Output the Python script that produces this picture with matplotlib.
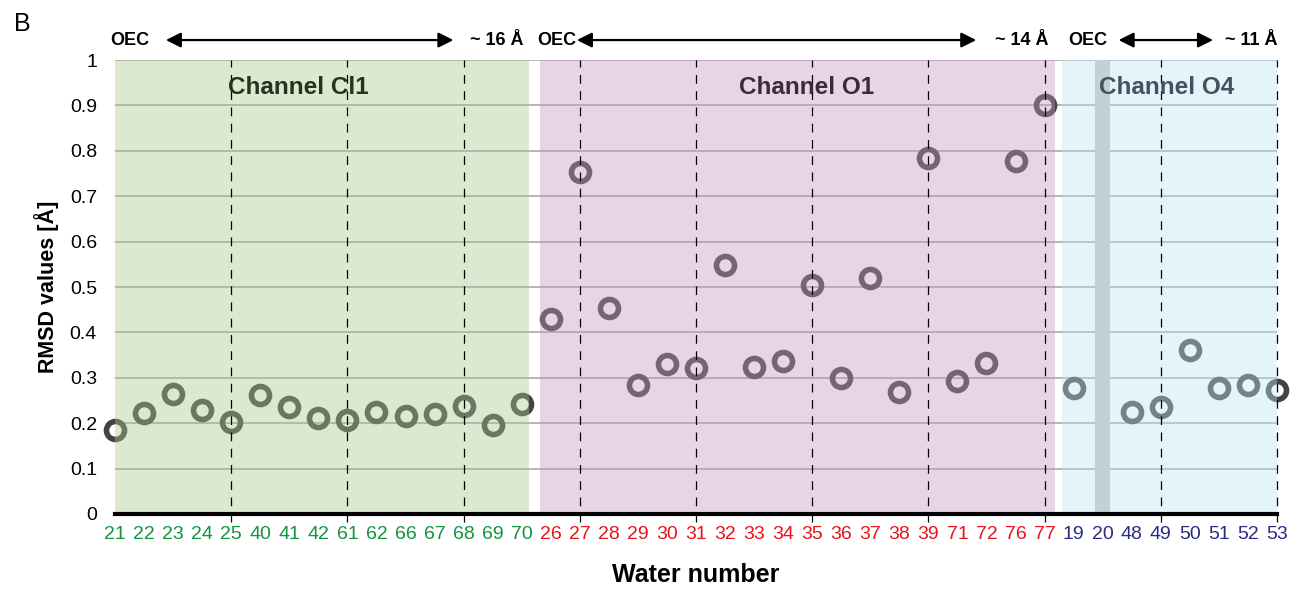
import matplotlib.pyplot as plt
import numpy as np

plt.rcParams['font.family'] = ['Liberation Sans', 'DejaVu Sans']

# Data
cl1_waters = ["21", "22", "23", "24", "25", "40", "41", "42", "61", "62", "66", "67", "68", "69", "70"]
cl1_rmsd = [0.185, 0.222, 0.264, 0.229, 0.203, 0.262, 0.236, 0.211, 0.207, 0.225, 0.216, 0.220, 0.238, 0.196, 0.242]

o1_waters = ["26", "27", "28", "29", "30", "31", "32", "33", "34", "35", "36", "37", "38", "39", "71", "72", "76", "77"]
o1_rmsd = [0.430, 0.753, 0.454, 0.284, 0.330, 0.322, 0.548, 0.324, 0.337, 0.504, 0.300, 0.520, 0.269, 0.784, 0.293, 0.333, 0.778, 0.901]

o4_waters = ["19", "20", "48", "49", "50", "51", "52", "53"]
o4_rmsd = [0.278, np.nan, 0.225, 0.236, 0.361, 0.278, 0.284, 0.273]

channel_names = ["Channel Cl1", "Channel O1", "Channel O4"]
distances = ["~ 16 Å", "~ 14 Å", "~ 11 Å"]

waters = cl1_waters + o1_waters + o4_waters
rmsd = cl1_rmsd + o1_rmsd + o4_rmsd
x = np.arange(len(waters))
n1, n2, n3 = len(cl1_waters), len(o1_waters), len(o4_waters)

fig = plt.figure(figsize=(12.91, 5.92), dpi=100)
ax = fig.add_axes([0.0891, 0.1318, 0.9000, 0.7668])

# horizontal grid
for yv in np.arange(0.1, 1.01, 0.1):
    ax.axhline(yv, color='#b0b0b0', lw=1.3, zorder=1)

# points (rings)
ax.plot(x, rmsd, linestyle='none', marker='o', ms=13, mew=4.0,
        mfc='none', mec='#434343', zorder=2, clip_on=False)

# translucent channel backgrounds drawn over the points
ax.axvspan(-0.02, n1 - 1 + 0.25, color='#a5c88e', alpha=0.4, lw=0, zorder=3)
ax.axvspan(n1 - 1 + 0.63, n1 + n2 - 1 + 0.36, color='#c596c5', alpha=0.4, lw=0, zorder=3)
ax.axvspan(n1 + n2 - 1 + 0.6, len(waters) - 1, color='#c0e1f7', alpha=0.4, lw=0, zorder=3)
i20 = waters.index("20", n1 + n2)
ax.axvspan(i20 - 0.27, i20 + 0.27, color='#c4d0d8', lw=0, zorder=3)

# dashed reference lines every 4th water
for xv in x[4::4]:
    ax.plot([xv, xv], [-0.018, 1.0], color='black', lw=0.9, ls=(0, (7, 6)),
            zorder=4, clip_on=False)

ax.set_xlim(0, len(waters) - 1)
ax.set_ylim(0, 1)
ax.set_yticks(np.arange(0, 1.01, 0.1))
ax.set_yticklabels(["0", "0.1", "0.2", "0.3", "0.4", "0.5", "0.6", "0.7", "0.8", "0.9", "1"])
ax.set_xticks(x)
ax.set_xticklabels(waters)
colors = ['#14943c'] * n1 + ['#e8141c'] * n2 + ['#2b2b86'] * n3
for lab, c in zip(ax.get_xticklabels(), colors):
    lab.set_color(c)
ax.tick_params(axis='both', length=0, labelsize=14)
ax.tick_params(axis='x', pad=9)
ax.tick_params(axis='y', pad=13)

for s in ['top', 'right', 'left']:
    ax.spines[s].set_visible(False)
ax.spines['bottom'].set_linewidth(3)
ax.spines['bottom'].set_zorder(5)

ax.set_ylabel("RMSD values [Å]", fontsize=15.5, fontweight='bold', labelpad=8)
ax.set_xlabel("Water number", fontsize=18, fontweight='bold', labelpad=14)

# channel titles
ax.text(6.3, 0.94, channel_names[0], ha='center', va='center', fontsize=17.5,
        fontweight='bold', color='#26331f', zorder=6)
ax.text(23.8, 0.94, channel_names[1], ha='center', va='center', fontsize=17.5,
        fontweight='bold', color='#3a2a3a', zorder=6)
ax.text(36.2, 0.94, channel_names[2], ha='center', va='center', fontsize=17.5,
        fontweight='bold', color='#43525c', zorder=6)

# OEC -> distance arrows
ya = 1.044
arrows = [(0.5, 1.75, 11.65, 13.15), (15.2, 15.9, 29.65, 31.2), (33.5, 34.55, 37.8, 39.1)]
for (xo, xa, xb, xd), d in zip(arrows, distances):
    ax.text(xo, ya, "OEC", ha='center', va='center', fontsize=13, fontweight='bold',
            clip_on=False)
    ax.text(xd, ya, d, ha='center', va='center', fontsize=13, fontweight='bold',
            clip_on=False)
    ax.annotate("", xy=(xb, ya), xytext=(xa, ya), xycoords='data',
                arrowprops=dict(arrowstyle='<|-|>,head_length=0.9,head_width=0.45',
                                color='black', lw=1.6, shrinkA=0, shrinkB=0),
                annotation_clip=False)

fig.text(0.011, 0.96, "B", fontsize=18, va='center', ha='left')

fig.savefig("out.png", dpi=100)
